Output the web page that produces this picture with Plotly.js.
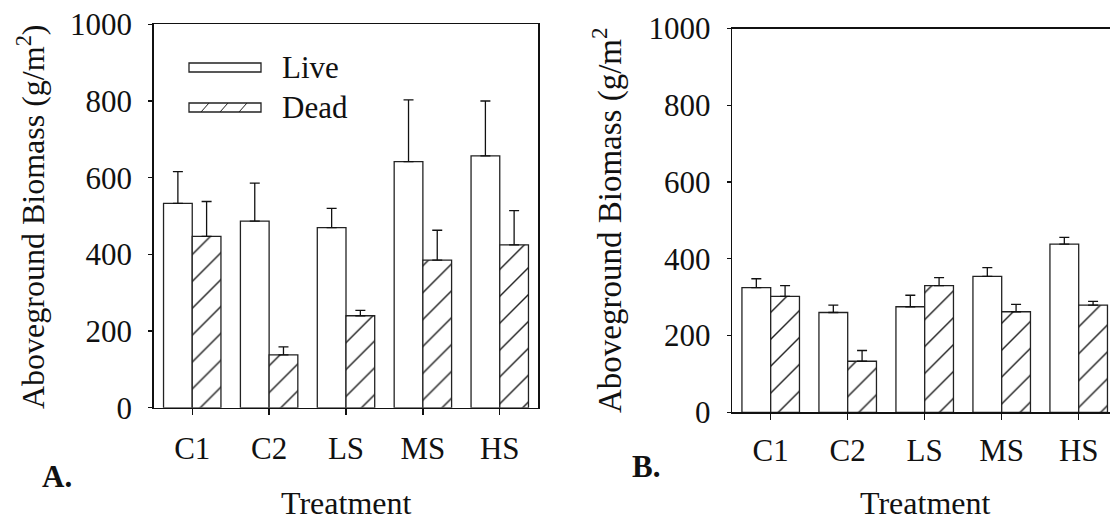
<!DOCTYPE html>
<html>
<head>
<meta charset="utf-8">
<script src="https://cdn.plot.ly/plotly-3.0.1.min.js"></script>
<style>
  html, body { margin: 0; padding: 0; background: #fff; }
  #chart { width: 1110px; height: 523px; }
</style>
</head>
<body>
<div id="chart"></div>
<script>
// Aboveground biomass (g/m^2) by treatment, live vs dead, two sampling panels
const treatments = ['C1', 'C2', 'LS', 'MS', 'HS'];

// Panel A
const liveA    = [533, 487, 470, 642, 657];
const liveAErr = [83, 99, 50, 161, 143];
const deadA    = [447, 138, 240, 385, 425];
const deadAErr = [91, 21, 14, 78, 89];

// Panel B
const liveB    = [325, 260, 275, 354, 438];
const liveBErr = [23, 19, 30, 23, 18];
const deadB    = [302, 133, 330, 262, 279];
const deadBErr = [28, 28, 21, 19, 10];

const yTicks = [0, 200, 400, 600, 800, 1000];
const seriesNames = ['Live', 'Dead'];

const W = 1110, H = 523;
const px = x => x / W;
const py = y => 1 - y / H;

const FONT = 'Liberation Serif';
const INK = '#111';

function barTrace(name, vals, errs, xa, ya, hatched) {
  const marker = { color: '#fff', line: { color: '#222', width: 1.3 } };
  if (hatched) {
    marker.pattern = { shape: '/', size: 19, solidity: 0.075, fgcolor: '#222', bgcolor: '#fff', fillmode: 'replace' };
  }
  return {
    type: 'bar', name: name, x: treatments, y: vals,
    xaxis: xa, yaxis: ya, marker: marker, showlegend: false,
    error_y: { type: 'data', array: errs, arrayminus: errs.map(() => 0), symmetric: false,
               color: INK, thickness: 1.3, width: 5 },
    hoverinfo: 'x+y'
  };
}

const data = [
  barTrace(seriesNames[0], liveA, liveAErr, 'x', 'y', false),
  barTrace(seriesNames[1], deadA, deadAErr, 'x', 'y', true),
  barTrace(seriesNames[0], liveB, liveBErr, 'x2', 'y2', false),
  barTrace(seriesNames[1], deadB, deadBErr, 'x2', 'y2', true)
];

function xAxis(domain, range, anchor, mirror, standoff) {
  return {
    domain: domain, range: range, anchor: anchor, type: 'category',
    tickvals: treatments, ticktext: treatments,
    showline: true, linecolor: INK, linewidth: 1.5, mirror: mirror,
    ticks: 'outside', ticklen: 6, tickwidth: 1.3, tickcolor: INK,
    tickfont: { family: FONT, size: 31, color: INK }, ticklabelstandoff: standoff,
    showgrid: false, zeroline: false, fixedrange: true
  };
}
function yAxis(domain, anchor, mirror) {
  return {
    domain: domain, range: [0, 1000], anchor: anchor,
    tickvals: yTicks, ticktext: yTicks.map(String),
    showline: true, linecolor: INK, linewidth: 1.5, mirror: mirror,
    ticks: 'outside', ticklen: 4, tickwidth: 1.3, tickcolor: INK,
    tickfont: { family: FONT, size: 31, color: INK }, ticklabelstandoff: 10,
    showgrid: false, zeroline: false, fixedrange: true
  };
}

const textAnn = (text, x, y, opts) => Object.assign({
  text: text, xref: 'paper', yref: 'paper', x: px(x), y: py(y),
  xanchor: 'center', yanchor: 'middle', showarrow: false,
  font: { family: FONT, size: 31, color: INK }
}, opts || {});

// Legend drawn as outlined swatches with a hatched sample for the dead series
const legendBox = (y0, y1) => ({
  type: 'rect', xref: 'paper', yref: 'paper',
  x0: px(189), x1: px(261), y0: py(y1), y1: py(y0),
  line: { color: '#222', width: 1.3 }, fillcolor: '#fff'
});
const hatchLine = x => ({
  type: 'line', xref: 'paper', yref: 'paper',
  x0: px(x), y0: py(112), x1: px(x + 8), y1: py(103),
  line: { color: '#222', width: 1 }
});

const titleFont = { family: FONT, size: 32, color: INK };

const layout = {
  width: W, height: H,
  margin: { l: 0, r: 0, t: 0, b: 0, pad: 0 },
  paper_bgcolor: '#fff', plot_bgcolor: '#fff',
  font: { family: FONT, color: INK },
  barmode: 'group', bargap: 0.253, bargroupgap: 0,
  showlegend: false,
  xaxis: xAxis([px(153.8), px(538.2)], [-0.5, 4.5], 'y', true, 6),
  yaxis: yAxis([py(407.8), py(24.3)], 'x', true),
  xaxis2: xAxis([px(732.2), 1], [-0.5, -0.5 + (W - 732.2) / 77], 'y2', true, 4),
  yaxis2: yAxis([py(412.3), py(28.5)], 'x2', false),
  shapes: [legendBox(63, 72), legendBox(103, 112), hatchLine(201), hatchLine(220), hatchLine(239)],
  annotations: [
    textAnn('Aboveground Biomass (g/m<sup>2</sup>)', 31, 217, { textangle: -90, font: titleFont }),
    textAnn('Aboveground Biomass (g/m<sup>2</sup>', 607, 220, { textangle: -90, font: { family: FONT, size: 33, color: INK } }),
    textAnn('Treatment', 346, 503, { font: titleFont }),
    textAnn('Treatment', 925, 503, { font: titleFont }),
    textAnn('<b>A.</b>', 57, 476, { font: { family: FONT, size: 31, color: INK } }),
    textAnn('<b>B.</b>', 646, 466, { font: { family: FONT, size: 31, color: INK } }),
    textAnn(seriesNames[0], 280, 68, { xanchor: 'left' }),
    textAnn(seriesNames[1], 280, 108, { xanchor: 'left' })
  ]
};

Plotly.newPlot('chart', data, layout, { displayModeBar: false, staticPlot: true });
</script>
</body>
</html>
